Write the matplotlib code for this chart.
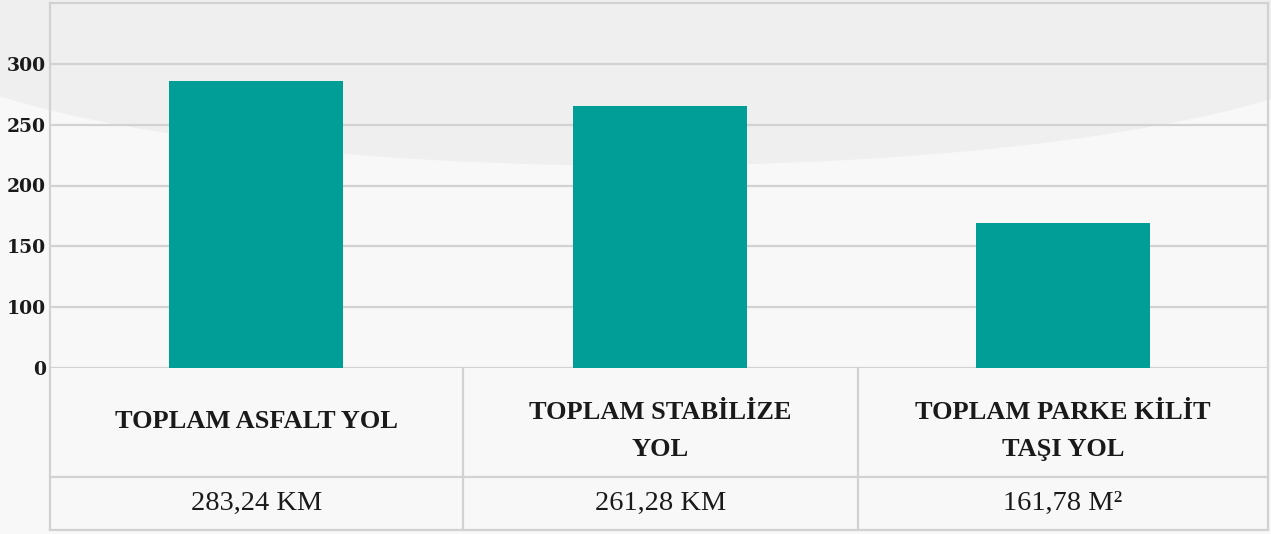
import matplotlib
matplotlib.use("Agg")
import matplotlib.pyplot as plt
from matplotlib.patches import Ellipse

# data
categories = ["TOPLAM ASFALT YOL", "TOPLAM STABİLİZE\nYOL", "TOPLAM PARKE KİLİT\nTAŞI YOL"]
values = [286, 265, 169]
totals = ["283,24 KM", "261,28 KM", "161,78 M²"]
tick_vals = [50, 100, 150, 200, 250, 300]
tick_labels = ["0", "100", "150", "200", "250", "300"]

W, H = 1271, 534
fig = plt.figure(figsize=(W / 100, H / 100), dpi=100)
fig.patch.set_facecolor("#f8f8f8")

# soft background shapes
bg = fig.add_axes([0, 0, 1, 1])
bg.set_xlim(0, W)
bg.set_ylim(H, 0)
bg.axis("off")
bg.add_patch(Ellipse((640, 20), 1500, 290, color="#efefef", zorder=0))
bg.add_patch(Ellipse((300, 640), 1300, 300, color="#f1f1f1", zorder=0))
bg.add_patch(Ellipse((360, 560), 1250, 330, color="#f8f8f8", zorder=0.5))

grid_c = "#d2d2d2"
left, right, top, base, bottom = 50, 1268, 3, 368, 530
col_edges = [50, 463, 858, 1268]

ax = fig.add_axes([left / W, (H - base) / H, (right - left) / W, (base - top) / H])
ax.set_facecolor("none")
unit = 403.5
x0 = -(256 - left) / unit
ax.set_xlim(x0, x0 + (right - left) / unit)
ax.set_ylim(50, 350)

ax.bar(range(len(values)), values, width=174 / unit, color="#009e96", zorder=3)

ax.set_yticks(tick_vals)
ax.set_yticklabels(tick_labels, fontfamily="DejaVu Serif", fontweight="bold",
                   fontsize=13.5, color="#1a1a1a")
ax.tick_params(axis="y", length=0, pad=3)
ax.set_xticks([])
ax.yaxis.grid(True, color=grid_c, linewidth=1.6, zorder=0)
for s in ax.spines.values():
    s.set_visible(False)

# frame and table lines
lk = dict(color=grid_c, linewidth=1.6, zorder=2)
bg.plot([left, right], [top, top], **lk)
bg.plot([left, left], [top, bottom], **lk)
bg.plot([right, right], [top, bottom], **lk)
bg.plot([left, right], [477, 477], **lk)
bg.plot([left, right], [bottom, bottom], **lk)
for xe in col_edges[1:-1]:
    bg.plot([xe, xe], [base, bottom], **lk)

for i, (cat, tot) in enumerate(zip(categories, totals)):
    cx = (col_edges[i] + col_edges[i + 1]) / 2
    cy = 422 if "\n" not in cat else 431
    bg.text(cx, cy, cat, ha="center", va="center", fontfamily="Liberation Serif",
            fontweight="bold", fontsize=19, color="#1a1a1a", linespacing=1.75, zorder=4)
    bg.text(cx, 503, tot, ha="center", va="center", fontfamily="Liberation Serif",
            fontsize=20.5, color="#1a1a1a", zorder=4)

fig.savefig("out.png", dpi=100, facecolor=fig.get_facecolor())
